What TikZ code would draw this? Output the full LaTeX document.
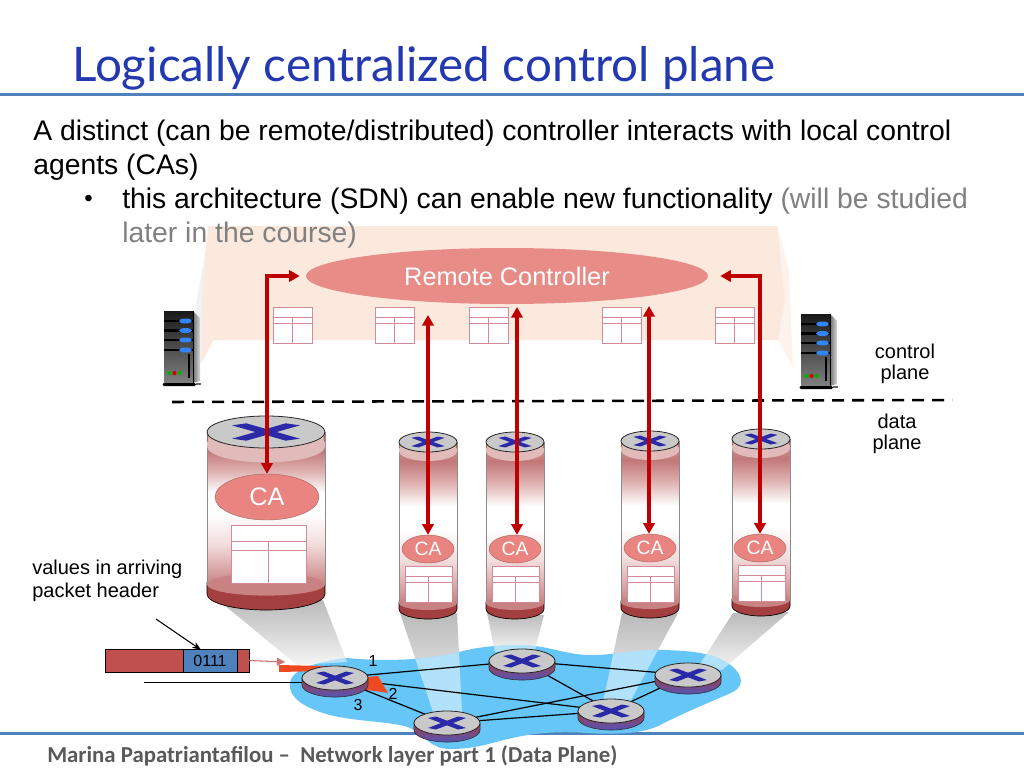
\documentclass[tikz,border=0pt]{standalone}
\usepackage{fontspec}
\setmainfont{Liberation Sans}
\newfontfamily\titlefont{Lato}
\newfontfamily\footfont{Carlito}
\usetikzlibrary{arrows.meta,shapes.geometric,positioning}
\definecolor{slideblue}{HTML}{4F81BD}
\definecolor{titleblue}{HTML}{2438B0}
\definecolor{peach}{HTML}{FCE9DD}
\definecolor{ctrlred}{HTML}{E88C88}
\definecolor{arrowred}{HTML}{C00000}
\definecolor{tblpink}{HTML}{D48A98}
\definecolor{cloudblue}{HTML}{66C6F8}
\definecolor{capgray}{HTML}{C9C9C9}
\definecolor{xblue}{HTML}{2A2AA8}
\definecolor{baseDark}{HTML}{A33F3F}
\definecolor{baseLight}{HTML}{C98282}
\definecolor{orangeflow}{HTML}{F0491F}
\definecolor{pktred}{HTML}{C0504D}
\pgfdeclareverticalshading{cylshade}{100bp}{
  color(0bp)=(baseLight); color(25bp)=(baseLight);
  rgb(38bp)=(.95,.86,.86); rgb(48bp)=(1,1,1); rgb(55bp)=(1,1,1);
  rgb(62bp)=(.88,.70,.70); rgb(69bp)=(.76,.47,.47); rgb(75bp)=(.85,.6,.6);
  rgb(100bp)=(.85,.6,.6)}
\tikzset{
  px/.style={x=0.75pt,y=-0.75pt},
  cabox/.style={ellipse,fill=ctrlred!94!red,draw=ctrlred!70!black,line width=0.3pt,text=white,inner sep=0pt},
  ctrlarrow/.style={draw=arrowred,line width=2.5pt,{Triangle[length=8pt,width=8.5pt]}-{Triangle[length=8pt,width=8.5pt]}},
  netlink/.style={draw=black,line width=0.9pt},
  routerspot/.style={inner sep=0pt,minimum size=0pt},
  funnel/.style={top color=black!27,bottom color=black!4,draw=none},
  labeltext/.style={font=\fontsize{15}{16.1}\selectfont,align=center,inner sep=0pt},
  bodytext/.style={font=\fontsize{21.25}{24}\selectfont,anchor=base west,inner sep=0pt},
  pics/routertop/.style={code={
    \fill[capgray] (0,0) ellipse [x radius=33,y radius=12];
    \draw[black!85,line width=0.6pt] (0,0) ellipse [x radius=33,y radius=12];
    \fill[xblue] (-19,-5)--(-11,-6.5)--(19,5)--(11,6.5)--cycle;
    \fill[xblue] (19,-5)--(11,-6.5)--(-19,5)--(-11,6.5)--cycle;
  }},
  pics/routerbody/.style={code={
    \shade[top color=baseDark,bottom color=xblue!80!white,draw=black!80,line width=0.5pt]
      (-33,0)--(-33,7) arc [x radius=33,y radius=12,start angle=180,end angle=0]--(33,0)--cycle;
    \pic at (0,0) {routertop};
  }},
  pics/flowtbl/.style={code={
    \draw[tblpink,fill=white,line width=0.6pt] (0,0) rectangle (39,36);
    \draw[tblpink,line width=0.6pt] (0,10)--(39,10) (0,16)--(39,16) (19.5,10)--(19.5,36);
  }},
  pics/serverbox/.style={code={
    \shade[left color=black!55,right color=black!15] (29,0)--(36,7)--(36,70)--(29,72)--cycle;
    \shade[top color=black!90,bottom color=black!50] (0,0) rectangle (29,72);
    \draw[black,line width=0.8pt] (29.5,0)--(29.5,72);
    \foreach \yy in {10,19.5,29,39}{
      \fill[black] (0,\yy-1.5) rectangle (29,\yy+1);
      \fill[blue!60!cyan!80!white] (21.5,\yy) ellipse [x radius=6.5,y radius=2.5];
    }
    \fill[black] (23.5,43) rectangle (26,67);
    \fill[green!70!black] (5.5,62) circle (2.1);
    \fill[red!80!black] (10.5,62) circle (2.1);
    \fill[green!70!black] (15.5,62) circle (2.1);
    \fill[black,rounded corners=1pt] (-1.5,72) rectangle (32,75);
    \fill[black!60] (32,72) rectangle (37,74);
  }},
}
\def\funnelpts{223/604/323/600/347/662/297/665,400/613/457/613/462/712/433/712,
  487/613/544/615/535/650/495/652,622/613/678/613/630/702/603/702,733/613/789/612/722/670/698/667}
\def\cloudpath{(290,683) .. controls (292,668) and (318,662) .. (347,658)
    .. controls (390,662) and (430,660) .. (467,650)
    .. controls (490,645) and (525,643) .. (547,648)
    .. controls (565,652) and (580,656) .. (597,655)
    .. controls (620,654) and (640,649) .. (665,650)
    .. controls (690,651) and (715,652) .. (733,667)
    .. controls (743,676) and (744,686) .. (733,692)
    .. controls (715,700) and (690,710) .. (660,725)
    .. controls (645,733) and (620,735) .. (587,733)
    .. controls (560,731) and (535,733) .. (517,737)
    .. controls (495,741) and (480,749) .. (450,749)
    .. controls (430,749) and (425,735) .. (410,728)
    .. controls (395,721) and (350,722) .. (323,713)
    .. controls (305,707) and (288,698) .. (290,683) -- cycle}
% one tall switch with its base and cap: x, y of cap, y of base, radii
\newcommand{\switchcyl}[5]{
  \begin{scope}[shift={(#1,#2)}]
    \fill[baseDark,draw=black,line width=0.5pt] (-#4,#3-#2-1.7*#5)--(-#4,#3-#2-#5)
      arc [x radius=#4,y radius=#5,start angle=180,end angle=0]--(#4,#3-#2-1.7*#5)--cycle;
    \fill[shading=cylshade,draw=black!45,line width=0.25pt] (-#4,0) rectangle (#4,#3-#2-1.6*#5);
    \fill[baseLight] (0,#3-#2-1.6*#5) ellipse [x radius=#4,y radius=0.7*#5];
    \fill[baseLight!55!white] (-#4,0)--(-#4,0.9*#5)
      arc [x radius=#4,y radius=#5,start angle=180,end angle=0]--(#4,0)--cycle;
    \fill[baseDark!80!white] (-#4,0) rectangle (-#4+1.2,0.6*#5) (#4-1.2,0) rectangle (#4,0.6*#5);
    \pic[xscale=#4/33,yscale=#5/12] at (0,0) {routertop};
  \end{scope}
}
\begin{document}
\begin{tikzpicture}[px,>=Stealth]
  \useasboundingbox (0,0) rectangle (1024,768);
  \fill[white] (0,0) rectangle (1024,768);

  % control plane backdrop
  \fill[black!5] (210,226)--(197,300)--(190,340)--(196,370)--(214,340)--cycle;
  \fill[peach!55!white] (777,226)--(789,270)--(793,367)--(778,340)--cycle;
  \fill[peach] (208,226)--(777,226)--(785,300)--(778,340)--(213,340)--(202,362)--(202,300)--cycle;

  % rules
  \fill[slideblue] (0,92.5) rectangle (1024,95.5);
  \fill[slideblue] (0,731.5) rectangle (1024,734.5);

  % shadows from the switches down to the network
  \foreach \ax/\ay/\bx/\by/\cx/\cy/\dx/\dy in \funnelpts
    \shade[funnel] (\ax,\ay)--(\bx,\by)--(\cx,\cy)--(\dx,\dy)--cycle;

  % network cloud, with the shadows showing pale through it
  \fill[cloudblue] \cloudpath;
  \begin{scope}
    \clip \cloudpath;
    \foreach \ax/\ay/\bx/\by/\cx/\cy/\dx/\dy in \funnelpts
      \fill[white,fill opacity=0.5] (\ax,\ay)--(\bx,\by)--(\cx,\cy)--(\dx,\dy)--cycle;
  \end{scope}

  % routers of the network
  \foreach \nm/\xx/\yy in {rA/335/678,rB/522/661,rC/447/723,rD/611/711,rE/688/675}
    \node[routerspot] (\nm) at (\xx,\yy) {};
  \coordinate (lineIn) at (144,682);
  \draw[netlink,line width=0.7pt] (lineIn) -- (rA.center |- lineIn);
  \foreach \aa/\bb in {rA/rB,rA/rC,rA/rD,rB/rD,rB/rE,rC/rD,rC/rE,rD/rE}
    \draw[netlink] (\aa.center) -- (\bb.center);

  % forwarding of the packet
  \fill[orangeflow] (279,665)--(323,666)--(323,671)--(279,672)--cycle;
  \fill[orangeflow] (360,680)--(368,677)--(378,676)--(388,693)--(368,690)--(360,688)--cycle;
  \foreach \nm in {rA,rB,rC,rD,rE}
    \pic at (\nm.center) {routerbody};

  % switches with their agents and tables
  \switchcyl{266}{432}{610}{59}{16}
  \switchcyl{428}{442}{619}{29}{10}
  \switchcyl{515}{442}{619}{29}{10}
  \switchcyl{650}{441}{618}{29}{10}
  \switchcyl{761}{439}{616}{29}{10}
  \pic[xscale=75/39,yscale=58/36] at (231,525) {flowtbl};
  \foreach \xx/\yy in {405/566,492/566,627/566,738/565}
    \pic[xscale=47/39] at (\xx,\yy) {flowtbl};
  \foreach \xx in {273,375,469,602,715}
    \pic at (\xx,307) {flowtbl};

  % servers
  \pic at (164,311) {serverbox};
  \pic at (801,314) {serverbox};

  \draw[black,line width=1.9pt,dash pattern=on 9pt off 6pt] (172,402) -- (952,400);

  \node[ellipse,fill=ctrlred,minimum width=402*0.75pt,minimum height=56*0.75pt,inner sep=0pt,
    text=white,font=\fontsize{19}{22}\selectfont] (ctrl) at (507,276) {Remote Controller};
  \node[cabox,minimum width=78pt,minimum height=34.5pt,font=\fontsize{19}{22}\selectfont] (caA) at (267,497) {CA};
  \foreach \nm/\xx/\yy in {caB/428/549,caC/515/549,caD/650/548,caE/760/548}
    \node[cabox,minimum width=39pt,minimum height=21pt,font=\fontsize{14.5}{16}\selectfont] (\nm) at (\xx,\yy) {CA};

  % control links
  \coordinate (ctrlB) at (428,315);
  \coordinate (ctrlC) at (517,307);
  \coordinate (ctrlD) at (649,306);
  \draw[ctrlarrow,shorten >=4.5pt] (caA.north) |- (ctrl.west);
  \draw[ctrlarrow,shorten >=9pt] (caE.north) |- (ctrl.east);
  \draw[ctrlarrow] (caB.north) -- (ctrlB);
  \draw[ctrlarrow] (caC.north -| ctrlC) -- (ctrlC);
  \draw[ctrlarrow] (caD.north -| ctrlD) -- (ctrlD);

  % packet
  \node[draw=black,fill=pktred,line width=0.7pt,minimum width=108pt,minimum height=17.25pt,inner sep=0pt] (pkt) at (177,660.5) {};
  \node[draw=black,fill=slideblue,line width=0.7pt,minimum width=40.5pt,minimum height=17.25pt,inner sep=0pt,
    font=\fontsize{12}{14}\selectfont] (hdr) at (210,660.5) {0111\hspace{7pt}};
  \coordinate (pktOut) at (285,662);
  \coordinate (hdrFrom) at (156,619);
  \draw[-{Triangle[length=6pt,width=6pt]},draw=pktred!80!white,fill=pktred!80!white,line width=0.8pt] (pkt.east) -- (pktOut);
  \draw[->,line width=0.8pt] (hdrFrom) -- ([xshift=-6.75pt,yshift=-1pt]hdr.north);

  % port labels
  \node[font=\fontsize{12}{14}\selectfont,inner sep=0pt] (portA) at (373,661) {1};
  \node[font=\fontsize{12}{14}\selectfont,inner sep=0pt] (portB) at (393,694) {2};
  \node[font=\fontsize{12}{14}\selectfont,inner sep=0pt] (portC) at (358,705) {3};

  % side labels
  \node[labeltext] (cplane) at (905,364) {control\\plane};
  \node[labeltext] (dplane) at (897,434) {data\\plane};
  \node[labeltext,align=left,anchor=west,font=\fontsize{15}{17.2}\selectfont] (vals) at (32,581) {values in arriving\\packet header};

  % slide text
  \node[anchor=base west,inner sep=0pt,text=titleblue,font=\titlefont\fontsize{35.7}{40}\selectfont] (title) at (72,81) {Logically centralized control plane};
  \node[bodytext] (lineA) at (33,140) {A distinct (can be remote/distributed) controller interacts with local control};
  \node[bodytext] (lineB) at (33,174) {agents (CAs)};
  \node[bodytext,font=\fontsize{18}{20}\selectfont] (bullet) at (84,206) {•};
  \node[bodytext] (lineC) at (122,208) {this architecture (SDN) can enable new functionality \textcolor{black!50}{(will be studied}};
  \node[bodytext,text=black!50] (lineD) at (122,242) {later in the course)};
  \node[anchor=base west,inner sep=0pt,text=black!65,font=\footfont\bfseries\fontsize{17.1}{20}\selectfont] (foot) at (47,762) {Marina Papatriantafilou –\ \ Network layer part 1 (Data Plane)};
\end{tikzpicture}
\end{document}
